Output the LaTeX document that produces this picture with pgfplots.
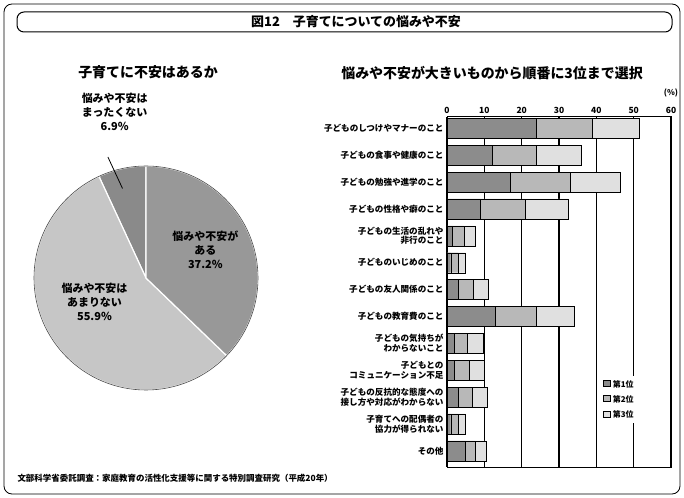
\documentclass[border=0pt]{standalone}
\usepackage{fontspec}
\setmainfont{Noto Sans CJK JP}
\usepackage{pgfplots}
\pgfplotsset{compat=1.18}
\definecolor{pieA}{HTML}{8A8A8A}
\definecolor{pieB}{HTML}{C6C6C6}
\definecolor{pieC}{HTML}{989898}
\definecolor{rankA}{HTML}{8C8C8C}
\definecolor{rankB}{HTML}{B8B8B8}
\definecolor{rankC}{HTML}{E0E0E0}
% pie shares (%)
\def\pA{6.9}  % まったくない
\def\pB{55.9} % あまりない
\def\pC{37.2} % ある
\begin{document}
\begin{tikzpicture}[font=\bfseries]
\path (0bp,0bp) rectangle (684bp,498bp);
\draw[rounded corners=8bp, line width=0.8bp] (4bp,4bp) rectangle (680bp,494bp);
\draw[rounded corners=7bp, line width=1bp] (17bp,466bp) rectangle (672bp,486bp);
\node[font=\bfseries\fontsize{13}{15}\selectfont] at (356bp,476bp) {図12\quad 子育てについての悩みや不安};
\node[font=\bfseries\fontsize{14}{16}\selectfont] at (148bp,426bp) {子育てに不安はあるか};
\node[font=\bfseries\fontsize{14}{16}\selectfont] at (492bp,425bp) {悩みや不安が大きいものから順番に3位まで選択};
\node[font=\bfseries\fontsize{8.5}{10}\selectfont, anchor=west] at (14bp,20bp)
  {文部科学省委託調査：家庭教育の活性化支援等に関する特別調査研究（平成20年）};

% pie chart
\begin{axis}[at={(34bp,108bp)}, anchor=south west, scale only axis,
  width=224bp, height=224bp, xmin=-1, xmax=1, ymin=-1, ymax=1,
  hide axis, clip=false]
\fill[pieA, draw=white, line width=1.2bp] (axis cs:0,0) -- ++(90:112bp)
  arc[start angle=90, end angle={90+3.6*\pA}, radius=112bp] -- cycle;
\fill[pieB, draw=white, line width=1.2bp] (axis cs:0,0) -- ++({90+3.6*\pA}:112bp)
  arc[start angle={90+3.6*\pA}, end angle={90+3.6*(\pA+\pB)}, radius=112bp] -- cycle;
\fill[pieC, draw=white, line width=1.2bp] (axis cs:0,0) -- ++({90+3.6*(\pA+\pB)}:112bp)
  arc[start angle={90+3.6*(\pA+\pB)}, end angle=450, radius=112bp] -- cycle;
\draw[gray!60!black, line width=0.6bp] (axis cs:0,0) circle[radius=112bp];
\node[align=center, font=\bfseries\fontsize{11}{14}\selectfont] at (axis cs:0.53,0.25)
  {悩みや不安が\\ある\\37.2\%};
\node[align=center, font=\bfseries\fontsize{11}{14}\selectfont] at (axis cs:-0.46,-0.21)
  {悩みや不安は\\あまりない\\55.9\%};
\node[align=center, font=\bfseries\fontsize{11}{14}\selectfont] at (axis cs:-0.28,1.48)
  {悩みや不安は\\まったくない\\6.9\%};
\draw[line width=0.8bp] (axis cs:-0.34,1.08) -- (axis cs:-0.21,0.80);
\end{axis}

% bar chart
\begin{axis}[at={(447bp,31bp)}, anchor=south west, scale only axis,
  width=224bp, height=350bp,
  xbar stacked, bar width=20bp,
  xmin=0, xmax=60, ymin=-0.42, ymax=12.6, y dir=reverse,
  xtick={0,10,...,60}, xticklabel pos=upper,
  ytick={0,...,12},
  yticklabels={
    子どものしつけやマナーのこと,
    子どもの食事や健康のこと,
    子どもの勉強や進学のこと,
    子どもの性格や癖のこと,
    {子どもの生活の乱れや\\非行のこと},
    子どものいじめのこと,
    子どもの友人関係のこと,
    子どもの教育費のこと,
    {子どもの気持ちが\\わからないこと},
    {子どもとの\\コミュニケーション不足},
    {子どもの反抗的な態度への\\接し方や対応がわからない},
    {子育てへの配偶者の\\協力が得られない},
    その他},
  yticklabel style={align=right, font=\bfseries\fontsize{8.6}{9.8}\selectfont},
  xticklabel style={font=\bfseries\fontsize{8.5}{10}\selectfont},
  /pgf/number format/assume math mode=true,
  major tick length=0pt,
  xmajorgrids, grid style={black, line width=1.2bp},
  axis line style={black, line width=1bp},
  legend style={at={(0.68,0.26)}, anchor=north west, draw=none, fill=white,
    font=\bfseries\fontsize{8}{9}\selectfont, row sep=3bp},
  legend cell align=left,
  clip=false,
]
\addplot[fill=rankA, draw=black] coordinates {
  (24,0) (12,1) (17,2) (9,3) (1.5,4) (1,5) (3,6) (13,7) (2,8) (2,9) (3,10) (1,11) (5,12)};
\addplot[fill=rankB, draw=black] coordinates {
  (15,0) (12,1) (16,2) (12,3) (3,4) (2,5) (4,6) (11,7) (3.5,8) (4,9) (3.7,10) (2,11) (2.5,12)};
\addplot[fill=rankC, draw=black] coordinates {
  (12.5,0) (12,1) (13.5,2) (11.5,3) (3,4) (2,5) (4,6) (10,7) (4.2,8) (4,9) (4,10) (2,11) (3,12)};
\legend{第1位,第2位,第3位}
\node[font=\bfseries\fontsize{8}{9}\selectfont] at (rel axis cs:1,1.07) {(\%)};
\end{axis}
\end{tikzpicture}
\end{document}
